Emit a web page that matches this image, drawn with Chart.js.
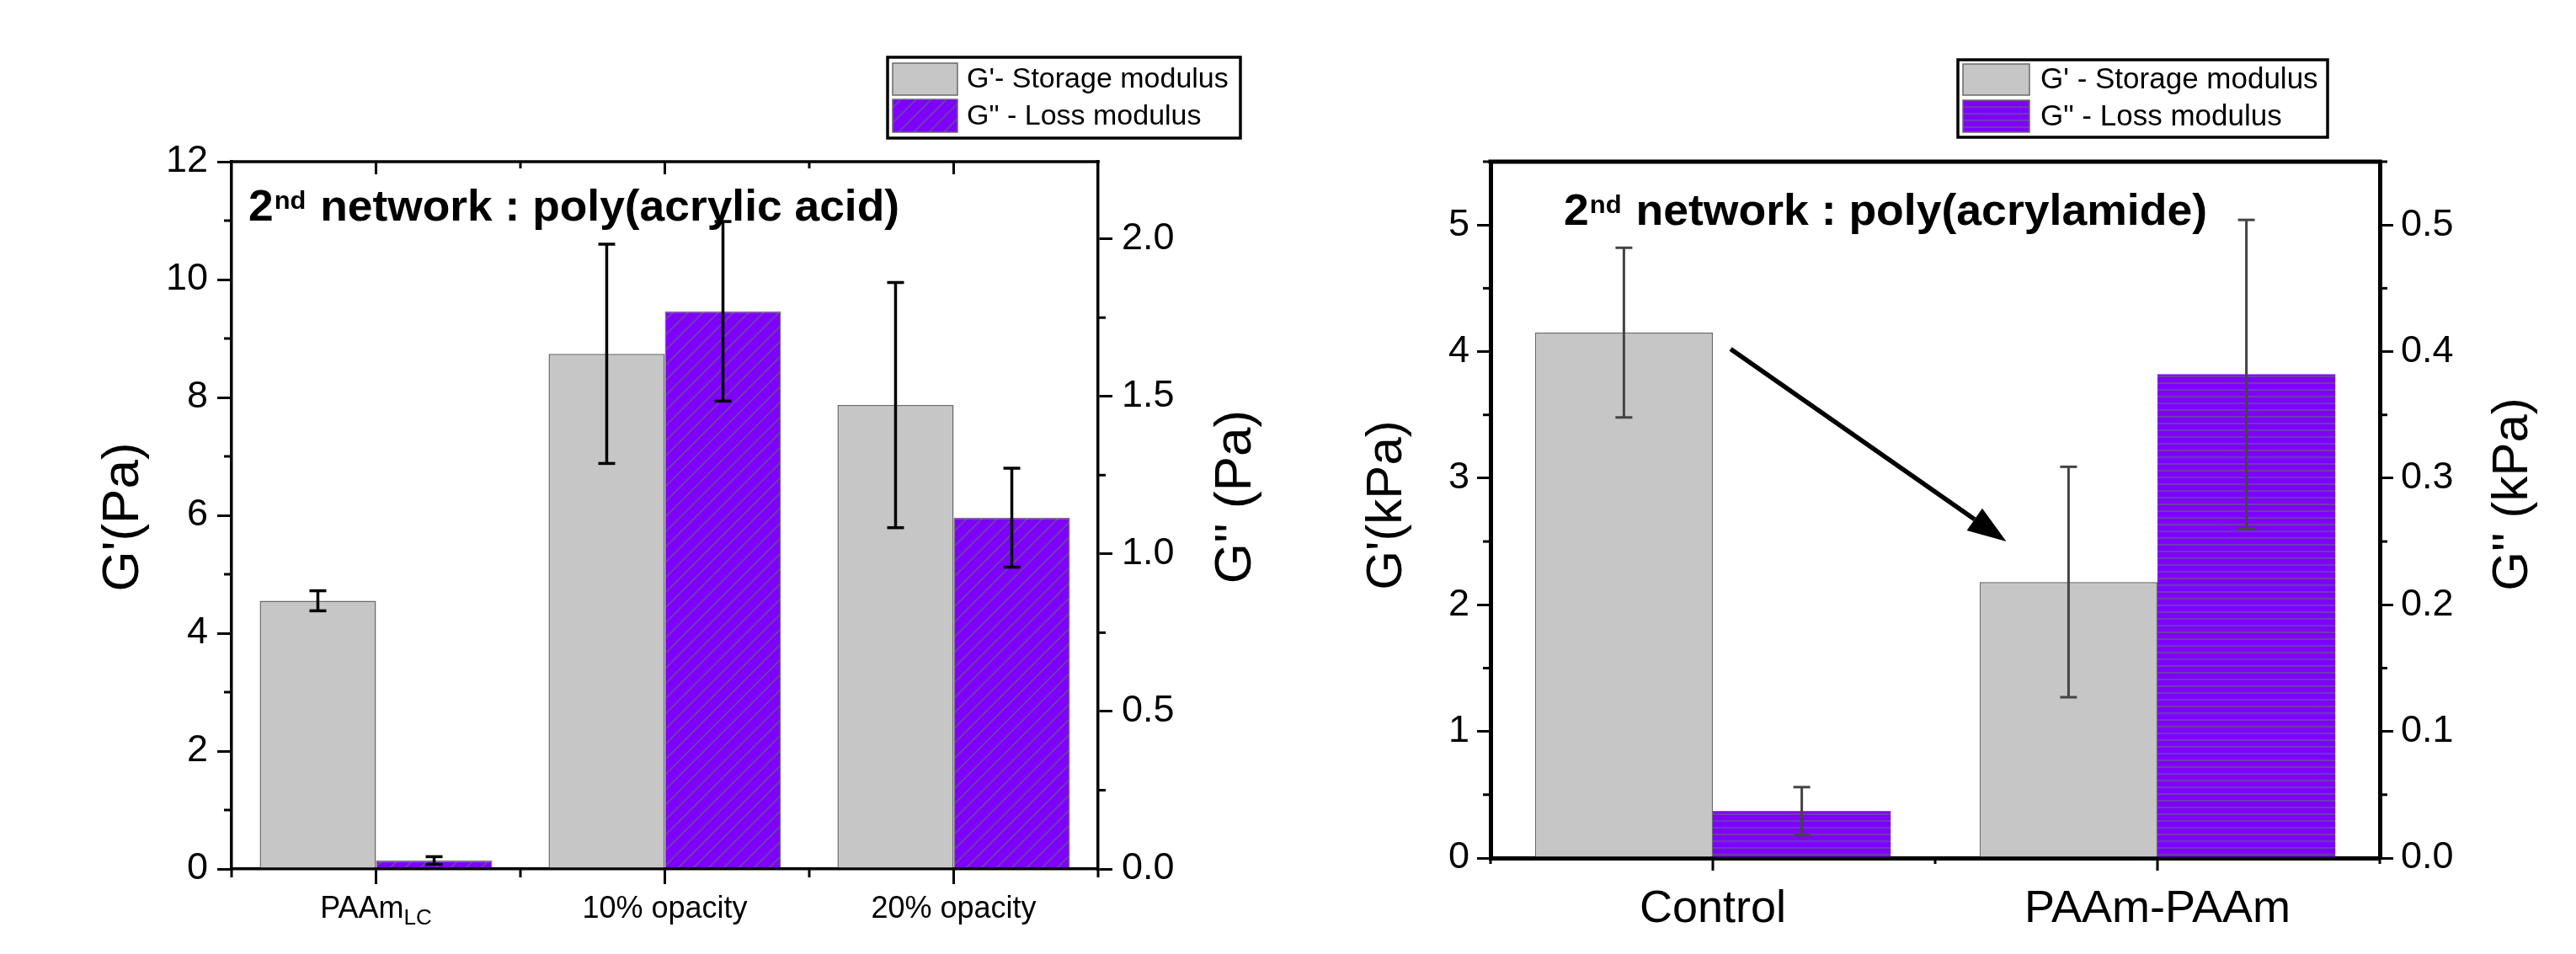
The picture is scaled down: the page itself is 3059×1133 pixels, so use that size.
<!DOCTYPE html>
<html>
<head>
<meta charset="utf-8">
<script src="https://cdn.jsdelivr.net/npm/chart.js@4.4.1/dist/chart.umd.min.js"></script>
<style>
  html, body { margin: 0; padding: 0; background: #fff; }
  #wrap { position: relative; width: 3059px; height: 1133px; overflow: hidden; }
  canvas { position: absolute; top: 0; }
</style>
</head>
<body>
<div id="wrap">
  <canvas id="chart1" width="1530" height="1133" style="left:0"></canvas>
  <canvas id="chart2" width="1529" height="1133" style="left:1530px"></canvas>
</div>
<script>
// left panel : 2nd network poly(acrylic acid), values in Pa
const PAA_CATEGORIES = ['PAAm', '10% opacity', '20% opacity'];
const PAA_SUBSCRIPTS = ['LC', '', ''];
const PAA_STORAGE = [4.55, 8.74, 7.87];
const PAA_STORAGE_ERR = [0.17, 1.86, 2.08];
const PAA_LOSS = [0.027, 1.77, 1.115];
const PAA_LOSS_ERR = [0.012, 0.285, 0.157];
const PAA_LEFT_TICKS = [0, 2, 4, 6, 8, 10, 12];
const PAA_RIGHT_TICKS = [0, 0.5, 1.0, 1.5, 2.0];

// right panel : 2nd network poly(acrylamide), values in kPa
const PAM_CATEGORIES = ['Control', 'PAAm-PAAm'];
const PAM_STORAGE = [4.15, 2.18];
const PAM_STORAGE_ERR = [0.67, 0.91];
const PAM_LOSS = [0.037, 0.382];
const PAM_LOSS_ERR = [0.019, 0.122];
const PAM_LEFT_TICKS = [0, 1, 2, 3, 4, 5];
const PAM_RIGHT_TICKS = [0, 0.1, 0.2, 0.3, 0.4, 0.5];
const PAM_ARROW = [[0.04, 4.02], [0.66, 2.5]]; // [category index, G' kPa]

const FONT = '"Liberation Sans", Arial, Helvetica, sans-serif';
const GREY = '#c6c6c6';
const PURPLE = '#7f00ff';

Chart.defaults.font.family = FONT;
Chart.defaults.color = '#000';

function makeHatch(kind) {
  const size = kind === 'diag' ? 18 : 8;
  const c = document.createElement('canvas');
  c.width = size; c.height = size;
  const g = c.getContext('2d');
  g.fillStyle = PURPLE;
  g.fillRect(0, 0, size, size);
  g.strokeStyle = '#6a44a4';
  g.lineWidth = 1.8;
  g.beginPath();
  if (kind === 'diag') {
    g.moveTo(-size, 2 * size); g.lineTo(2 * size, -size);
    g.moveTo(-size, size); g.lineTo(size, -size);
    g.moveTo(0, 2 * size); g.lineTo(2 * size, 0);
  } else {
    g.moveTo(0, size - 1); g.lineTo(size, size - 1);
  }
  g.stroke();
  return g.createPattern(c, 'repeat');
}

function fmt(v, digits) { return Number(v).toFixed(digits); }

function panelPlugin(cfg) {
  function line(ctx, x1, y1, x2, y2) {
    ctx.beginPath(); ctx.moveTo(x1, y1); ctx.lineTo(x2, y2); ctx.stroke();
  }
  function minorTicks(ctx, scale, x, dir, len) {
    const t = scale.ticks.map(k => k.value);
    const step = t[1] - t[0];
    for (let v = t[0] + step / 2; v <= scale.max + 1e-9; v += step) {
      const y = scale.getPixelForValue(v);
      line(ctx, x, y, x + dir * len, y);
    }
  }
  return {
    id: 'panel_' + cfg.canvas,
    afterDatasetsDraw(chart) {
      const ctx = chart.ctx;
      ctx.save();
      ctx.strokeStyle = cfg.errColor;
      ctx.lineWidth = cfg.errWidth;
      chart.data.datasets.forEach((ds, i) => {
        const sc = chart.scales[ds.yAxisID];
        chart.getDatasetMeta(i).data.forEach((bar, j) => {
          const top = sc.getPixelForValue(ds.data[j] + ds.errors[j]);
          const bot = sc.getPixelForValue(ds.data[j] - ds.errors[j]);
          line(ctx, bar.x, top, bar.x, bot);
          line(ctx, bar.x - cfg.cap, top, bar.x + cfg.cap, top);
          line(ctx, bar.x - cfg.cap, bot, bar.x + cfg.cap, bot);
        });
      });
      ctx.restore();
    },
    afterDraw(chart) {
      const ctx = chart.ctx;
      const a = chart.chartArea;
      const xs = chart.scales.x;
      ctx.save();
      ctx.strokeStyle = '#000';
      ctx.fillStyle = '#000';
      ctx.lineWidth = cfg.axisWidth;
      // top frame
      line(ctx, a.left - cfg.axisWidth / 2, a.top, a.right + cfg.axisWidth / 2, a.top);
      // minor ticks on y axes
      ctx.lineWidth = cfg.tickWidth;
      minorTicks(ctx, chart.scales.y, a.left, -1, cfg.minorTick);
      minorTicks(ctx, chart.scales.y1, a.right, 1, cfg.minorTick);
      // x ticks
      const n = xs.ticks.length;
      for (let i = 0; i < n; i++) {
        const cx = xs.getPixelForTick(i);
        line(ctx, cx, a.bottom, cx, a.bottom + cfg.xMajor);
        if (cfg.topTicks) line(ctx, cx, a.top, cx, a.top + cfg.topMajor);
      }
      for (let i = 0; i <= n; i++) {
        const bx = xs.getPixelForValue(i - 0.5);
        line(ctx, bx, a.bottom, bx, a.bottom + cfg.xMinor);
        if (cfg.topTicks && i > 0 && i < n) line(ctx, bx, a.top, bx, a.top + cfg.topMinor);
      }
      // category labels (with subscript)
      ctx.textBaseline = 'alphabetic';
      ctx.textAlign = 'left';
      chart.data.labels.forEach((lab, i) => {
        const sub = cfg.subscripts ? cfg.subscripts[i] : '';
        ctx.font = cfg.catFont + 'px ' + FONT;
        const w1 = ctx.measureText(lab).width;
        ctx.font = Math.round(cfg.catFont * 0.72) + 'px ' + FONT;
        const w2 = sub ? ctx.measureText(sub).width : 0;
        const x0 = xs.getPixelForTick(i) - (w1 + w2) / 2;
        ctx.font = cfg.catFont + 'px ' + FONT;
        ctx.fillText(lab, x0, cfg.catBaseline);
        if (sub) {
          ctx.font = Math.round(cfg.catFont * 0.72) + 'px ' + FONT;
          ctx.fillText(sub, x0 + w1, cfg.catBaseline + 8);
        }
      });
      // axis titles
      ctx.font = cfg.titleSize + 'px ' + FONT;
      ctx.textAlign = 'center';
      ctx.textBaseline = 'middle';
      cfg.titles.forEach(t => {
        ctx.save();
        ctx.translate(t.x, t.y);
        ctx.rotate(-Math.PI / 2);
        ctx.fillText(t.text, 0, 0);
        ctx.restore();
      });
      // network note, bold and condensed
      ctx.textAlign = 'left';
      ctx.textBaseline = 'alphabetic';
      const big = 'bold 52px ' + FONT, small = 'bold 30px ' + FONT;
      ctx.font = big; const wa = ctx.measureText(cfg.note[0]).width;
      ctx.font = small; const wb = ctx.measureText(cfg.note[1]).width;
      ctx.font = big; const wc = ctx.measureText(cfg.note[2]).width;
      const sx = cfg.noteWidth / (wa + wb + wc + 3);
      ctx.save();
      ctx.translate(cfg.noteX, cfg.noteBase);
      ctx.scale(sx, 1);
      ctx.font = big; ctx.fillText(cfg.note[0], 0, 0);
      ctx.font = small; ctx.fillText(cfg.note[1], wa + 1, -14);
      ctx.font = big; ctx.fillText(cfg.note[2], wa + wb + 3, 0);
      ctx.restore();
      // legend
      const L = cfg.legend;
      ctx.fillStyle = '#fff';
      ctx.fillRect(L.x, L.y, L.w, L.h);
      ctx.lineWidth = 3.5;
      ctx.strokeStyle = '#000';
      ctx.strokeRect(L.x, L.y, L.w, L.h);
      ctx.font = L.font + 'px ' + FONT;
      ctx.textBaseline = 'middle';
      chart.data.datasets.forEach((ds, i) => {
        const r = L.rows[i];
        ctx.fillStyle = ds.backgroundColor;
        ctx.fillRect(L.sx, r[0], L.sw, r[1] - r[0]);
        ctx.lineWidth = 1.5;
        ctx.strokeStyle = '#6a6a6a';
        ctx.strokeRect(L.sx, r[0], L.sw, r[1] - r[0]);
        ctx.fillStyle = '#000';
        ctx.fillText(ds.label, L.tx, (r[0] + r[1]) / 2 + 1);
      });
      // arrow
      if (cfg.arrow) {
        const ys = chart.scales.y;
        const x1 = xs.getPixelForValue(cfg.arrow[0][0]), y1 = ys.getPixelForValue(cfg.arrow[0][1]);
        const x2 = xs.getPixelForValue(cfg.arrow[1][0]), y2 = ys.getPixelForValue(cfg.arrow[1][1]);
        const ang = Math.atan2(y2 - y1, x2 - x1);
        const hl = 46, hw = 16;
        const bx = x2 - hl * Math.cos(ang), by = y2 - hl * Math.sin(ang);
        ctx.strokeStyle = '#000';
        ctx.lineWidth = 5.5;
        line(ctx, x1, y1, bx, by);
        ctx.fillStyle = '#000';
        ctx.beginPath();
        ctx.moveTo(x2, y2);
        ctx.lineTo(bx - hw * Math.sin(ang), by + hw * Math.cos(ang));
        ctx.lineTo(bx + hw * Math.sin(ang), by - hw * Math.cos(ang));
        ctx.closePath();
        ctx.fill();
      }
      ctx.restore();
    }
  };
}

function makePanel(cfg) {
  const canvas = document.getElementById(cfg.canvas);
  const yAxis = (pos, ticks, max, digits, width) => ({
    type: 'linear',
    position: pos,
    min: 0,
    max: max,
    afterBuildTicks: s => { s.ticks = ticks.map(v => ({ value: v })); },
    afterFit: s => { s.width = width; },
    ticks: {
      font: { size: cfg.tickFont },
      color: '#000',
      padding: cfg.tickPad,
      callback: v => fmt(v, digits)
    },
    grid: {
      display: true,
      drawOnChartArea: false,
      drawTicks: true,
      tickLength: cfg.majorTick,
      color: '#000',
      lineWidth: cfg.tickWidth
    },
    border: { display: true, color: '#000', width: cfg.axisWidth }
  });
  return new Chart(canvas, {
    type: 'bar',
    data: {
      labels: cfg.categories,
      datasets: [
        {
          label: cfg.labels[0],
          data: cfg.storage,
          errors: cfg.storageErr,
          yAxisID: 'y',
          backgroundColor: GREY,
          borderColor: '#6a6a6a',
          borderWidth: 1.5
        },
        {
          label: cfg.labels[1],
          data: cfg.loss,
          errors: cfg.lossErr,
          yAxisID: 'y1',
          backgroundColor: makeHatch(cfg.hatch),
          borderColor: '#777',
          borderWidth: cfg.hatch === 'diag' ? 1.5 : 0
        }
      ]
    },
    options: {
      responsive: false,
      animation: false,
      devicePixelRatio: 1,
      events: [],
      categoryPercentage: cfg.catPct,
      barPercentage: 1,
      layout: { padding: { top: cfg.area.top, left: 0, right: 0, bottom: 0 } },
      plugins: { legend: { display: false }, tooltip: { enabled: false } },
      scales: {
        x: {
          type: 'category',
          offset: true,
          afterFit: s => { s.height = cfg.area.bottom; },
          ticks: { display: false },
          grid: { display: false },
          border: { display: true, color: '#000', width: cfg.axisWidth }
        },
        y: yAxis('left', cfg.leftTicks, cfg.leftMax, cfg.leftDigits, cfg.area.left),
        y1: yAxis('right', cfg.rightTicks, cfg.rightMax, 1, cfg.area.right)
      }
    },
    plugins: [panelPlugin(cfg)]
  });
}

makePanel({
  canvas: 'chart1',
  categories: PAA_CATEGORIES,
  subscripts: PAA_SUBSCRIPTS,
  labels: ["G'- Storage modulus", 'G" - Loss modulus'],
  storage: PAA_STORAGE, storageErr: PAA_STORAGE_ERR,
  loss: PAA_LOSS, lossErr: PAA_LOSS_ERR,
  leftTicks: PAA_LEFT_TICKS, leftMax: 12, leftDigits: 0,
  rightTicks: PAA_RIGHT_TICKS, rightMax: 2.245,
  hatch: 'diag',
  catPct: 0.805,
  area: { top: 192, left: 275, right: 226, bottom: 101 },
  axisWidth: 3.5, tickWidth: 3, tickFont: 45, tickPad: 11,
  majorTick: 17, minorTick: 9, xMajor: 18, xMinor: 10,
  topTicks: true, topMajor: 15, topMinor: 8,
  errColor: '#000', errWidth: 3.5, cap: 10,
  catFont: 36, catBaseline: 1090,
  titleSize: 62,
  titles: [{ text: "G'(Pa)", x: 147, y: 614 }, { text: "G'' (Pa)", x: 1468, y: 590 }],
  note: ['2', 'nd', ' network : poly(acrylic acid)'], noteX: 295, noteBase: 262, noteWidth: 773,
  legend: { x: 1054, y: 68, w: 419, h: 96, sx: 1060, sw: 77, rows: [[75, 113], [118, 157]], tx: 1148, font: 34 }
});

makePanel({
  canvas: 'chart2',
  categories: PAM_CATEGORIES,
  subscripts: null,
  labels: ["G' - Storage modulus", 'G" - Loss modulus'],
  storage: PAM_STORAGE, storageErr: PAM_STORAGE_ERR,
  loss: PAM_LOSS, lossErr: PAM_LOSS_ERR,
  leftTicks: PAM_LEFT_TICKS, leftMax: 5.5, leftDigits: 0,
  rightTicks: PAM_RIGHT_TICKS, rightMax: 0.55,
  hatch: 'horiz',
  catPct: 0.8,
  area: { top: 192, left: 240, right: 233, bottom: 114 },
  axisWidth: 5, tickWidth: 3, tickFont: 45, tickPad: 9,
  majorTick: 16, minorTick: 9, xMajor: 15, xMinor: 7,
  topTicks: false,
  errColor: '#444', errWidth: 3, cap: 10,
  catFont: 54, catBaseline: 1095,
  titleSize: 60,
  titles: [{ text: "G'(kPa)", x: 117, y: 600 }, { text: "G'' (kPa)", x: 1454, y: 587 }],
  note: ['2', 'nd', ' network : poly(acrylamide)'], noteX: 327, noteBase: 267, noteWidth: 764,
  legend: { x: 795, y: 71, w: 439, h: 92, sx: 801, sw: 79, rows: [[76, 113], [119, 157]], tx: 893, font: 35 },
  arrow: PAM_ARROW
});
</script>
</body>
</html>
